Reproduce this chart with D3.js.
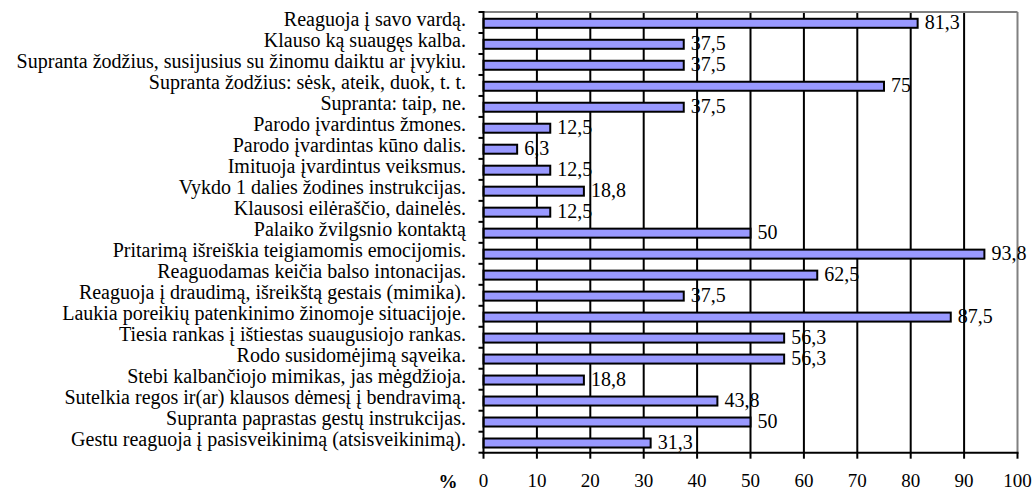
<!DOCTYPE html>
<html><head><meta charset="utf-8">
<script src="https://cdn.jsdelivr.net/npm/d3@7"></script>
<style>body{margin:0;background:#fff}svg{display:block}</style>
</head><body><svg id="c" width="1036" height="492"></svg>
<script>
const categories = [
"Reaguoja į savo vardą.",
"Klauso ką suaugęs kalba.",
"Supranta žodžius, susijusius su žinomu daiktu ar įvykiu.",
"Supranta žodžius: sėsk, ateik, duok, t. t.",
"Supranta: taip, ne.",
"Parodo įvardintus žmones.",
"Parodo įvardintas kūno dalis.",
"Imituoja įvardintus veiksmus.",
"Vykdo 1 dalies žodines instrukcijas.",
"Klausosi eilėraščio, dainelės.",
"Palaiko žvilgsnio  kontaktą",
"Pritarimą išreiškia teigiamomis emocijomis.",
"Reaguodamas keičia  balso intonacijas.",
"Reaguoja į draudimą, išreikštą gestais (mimika).",
"Laukia poreikių patenkinimo žinomoje situacijoje.",
"Tiesia rankas į ištiestas suaugusiojo rankas.",
"Rodo susidomėjimą sąveika.",
"Stebi kalbančiojo mimikas, jas mėgdžioja.",
"Sutelkia regos ir(ar) klausos dėmesį į bendravimą.",
"Supranta paprastas gestų instrukcijas.",
"Gestu reaguoja į pasisveikinimą (atsisveikinimą)."
];
const values = [81.3,37.5,37.5,75,37.5,12.5,6.3,12.5,18.8,12.5,50,93.8,62.5,37.5,87.5,56.3,56.3,18.8,43.8,50,31.3];
const xTicks = [0,10,20,30,40,50,60,70,80,90,100];
const axisUnit = "%";

const FONT = "\"Liberation Serif\", serif";
const svg = d3.select("#c");
const L = 483.5, R = 1017.5, T = 12, B = 452.7;
const x = d3.scaleLinear().domain([0,100]).range([L,R]);
const y = d3.scaleBand().domain(categories).range([T,B]).paddingInner(0).paddingOuter(0);
const fmt = v => String(v).replace(".", ",");

svg.append("g").selectAll("line").data(xTicks.filter(t=>t>0 && t<100)).join("line")
  .attr("x1",d=>x(d)).attr("x2",d=>x(d)).attr("y1",T).attr("y2",B)
  .attr("stroke","#000").attr("stroke-width",2);
svg.append("line").attr("x1",L).attr("x2",x(100)).attr("y1",T).attr("y2",T).attr("stroke","#808080").attr("stroke-width",2);
svg.append("line").attr("x1",x(100)).attr("x2",x(100)).attr("y1",T).attr("y2",B).attr("stroke","#808080").attr("stroke-width",2);

const bh = 9;
svg.append("g").selectAll("rect").data(values).join("rect")
  .attr("x",x(0)).attr("y",(d,i)=>y(categories[i])+y.bandwidth()/2-bh/2+0.8)
  .attr("width",d=>x(d)-x(0)).attr("height",bh)
  .attr("fill","#9999FF").attr("stroke","#000").attr("stroke-width",2);

svg.append("g").selectAll("text").data(values).join("text")
  .style("font-family",FONT).style("font-size","20px")
  .attr("x",d=>x(d)+7).attr("y",(d,i)=>y(categories[i])+y.bandwidth()/2+6.5)
  .text(d=>fmt(d));

const ya = svg.append("g");
ya.append("line").attr("x1",L).attr("x2",L).attr("y1",T-1).attr("y2",B+1).attr("stroke","#000").attr("stroke-width",2);
const bounds = d3.range(categories.length+1).map(i=>T+i*y.step());
ya.selectAll("line.t").data(bounds).join("line").attr("class","t")
  .attr("x1",L-5).attr("x2",L).attr("y1",d=>d).attr("y2",d=>d).attr("stroke","#000").attr("stroke-width",2);
ya.selectAll("text").data(categories).join("text")
  .style("font-family",FONT).style("font-size","20px")
  .attr("x",466).attr("y",d=>y(d)+y.bandwidth()/2+4)
  .attr("text-anchor","end").text(d=>d);

const xa = svg.append("g");
xa.append("line").attr("x1",L-1).attr("x2",R+1).attr("y1",B).attr("y2",B).attr("stroke","#000").attr("stroke-width",2);
xa.selectAll("line.t").data(xTicks).join("line").attr("class","t")
  .attr("x1",d=>x(d)).attr("x2",d=>x(d)).attr("y1",B).attr("y2",B+6).attr("stroke","#000").attr("stroke-width",2);
xa.selectAll("text").data(xTicks).join("text")
  .style("font-family",FONT).style("font-size","19px")
  .attr("x",d=>x(d)).attr("y",487).attr("text-anchor","middle").text(d=>d);
svg.append("text").style("font-family",FONT).style("font-size","19px").style("font-weight","bold")
  .attr("x",448).attr("y",488).attr("text-anchor","middle").text(axisUnit);
</script></body></html>
